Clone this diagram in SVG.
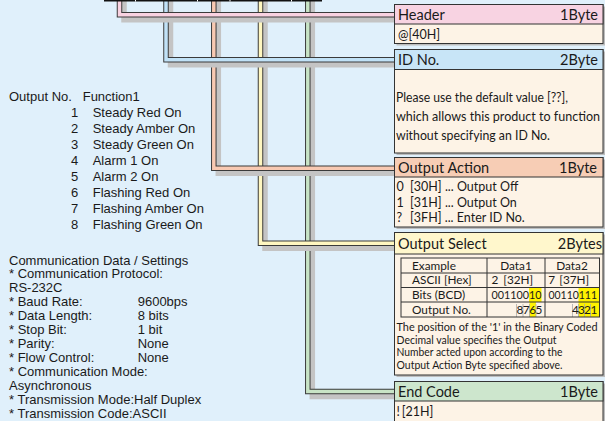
<svg xmlns="http://www.w3.org/2000/svg" width="605" height="421" viewBox="0 0 605 421">
<style>
.lt{font-family:"Liberation Sans",Arial,sans-serif;font-size:13px;fill:#1a1a1a}
.bt{font-family:Lato,"Open Sans",sans-serif;fill:#1a1a1a}
.ttl{font-size:14.5px}
.cnt{font-size:12.5px}
.tbl{font-size:11.8px}
.note{font-size:10.5px}
.sh{fill:none;stroke:#c4c4c4;stroke-width:5.5}
.out{fill:none;stroke:#3a3a3a;stroke-width:5.5}
.inn{fill:none;stroke-width:3.5}
.frame{stroke:#333;stroke-width:1}
.bshadow{fill:#bdbdbd}
.body{fill:#fdf3e6}
.tl{stroke:#333;stroke-width:1;fill:none}
.cell{stroke:#aaa;stroke-width:0.8}
.hl{fill:#fff200}
</style>
<rect width="605" height="421" fill="#e0f0fb"/>

<g id="connectors">
  <g id="c-end">
    <path class="sh" d="M307.8,-5 V391.5 H394" transform="translate(4.5,5)"/>
    <path class="out" d="M307.8,-5 V391.5 H394"/>
    <path class="inn" d="M307.8,-5 V391.5 H394" stroke="#c8e4c6"/>
  </g>
  <g id="c-select">
    <path class="sh" d="M260.5,-5 V243.2 H394" transform="translate(4.5,5)"/>
    <path class="out" d="M260.5,-5 V243.2 H394"/>
    <path class="inn" d="M260.5,-5 V243.2 H394" stroke="#fff7c0"/>
  </g>
  <g id="c-action">
    <path class="sh" d="M213.8,-5 V168.2 H394" transform="translate(4.5,5)"/>
    <path class="out" d="M213.8,-5 V168.2 H394"/>
    <path class="inn" d="M213.8,-5 V168.2 H394" stroke="#f8c9b2"/>
  </g>
  <g id="c-id">
    <path class="sh" d="M166,-5 V59.8 H394" transform="translate(4.5,5)"/>
    <path class="out" d="M166,-5 V59.8 H394"/>
    <path class="inn" d="M166,-5 V59.8 H394" stroke="#c1e2f7"/>
  </g>
  <g id="c-header">
    <path class="sh" d="M119.5,-5 V14.8 H394" transform="translate(4.5,5)"/>
    <path class="out" d="M119.5,-5 V14.8 H394"/>
    <path class="inn" d="M119.5,-5 V14.8 H394" stroke="#f9d2e1"/>
  </g>
  <g id="top-edge">
    <rect x="104" y="0" width="218" height="1.5" fill="#111"/>
    <rect x="135" y="0" width="1" height="1.5" fill="#fff"/>
    <rect x="197" y="0" width="1" height="1.5" fill="#fff"/>
    <rect x="229.5" y="0" width="1" height="1.5" fill="#fff"/>
    <rect x="291" y="0" width="1" height="1.5" fill="#fff"/>
  </g>
</g>

<g id="header">
  <rect class="bshadow" x="396.5" y="6.5" width="209" height="39"/>
  <rect class="body frame" x="394.5" y="4.5" width="208.5" height="39"/>
  <rect class="frame" x="394.5" y="4.5" width="208.5" height="19.5" fill="#f8d3e2"/>
  <text class="bt ttl" x="398" y="19.5">Header</text>
  <text class="bt ttl" x="598" y="19.5" text-anchor="end">1Byte</text>
  <text class="bt cnt" x="398" y="38.5" font-size="12">@[40H]</text>
</g>

<g id="id-no">
  <rect class="bshadow" x="396.5" y="51.5" width="209" height="103.5"/>
  <rect class="body frame" x="394.5" y="49.5" width="208.5" height="103.5"/>
  <rect class="frame" x="394.5" y="49.5" width="208.5" height="20" fill="#c8e5f7"/>
  <text class="bt ttl" x="398" y="64.5">ID No.</text>
  <text class="bt ttl" x="598" y="64.5" text-anchor="end">2Byte</text>
  <text class="bt cnt" x="396" y="101.5" textLength="172" lengthAdjust="spacingAndGlyphs">Please use the default value [??],</text>
  <text class="bt cnt" x="396" y="120.5" textLength="204" lengthAdjust="spacingAndGlyphs">which allows this product to function</text>
  <text class="bt cnt" x="396" y="139.5" textLength="154" lengthAdjust="spacingAndGlyphs">without specifying an ID No.</text>
</g>

<g id="output-action">
  <rect class="bshadow" x="396.5" y="159.5" width="209" height="69.5"/>
  <rect class="body frame" x="394.5" y="157.5" width="208.5" height="69.5"/>
  <rect class="frame" x="394.5" y="157.5" width="208.5" height="19.5" fill="#f7cdb5"/>
  <text class="bt ttl" x="398" y="172.5">Output Action</text>
  <text class="bt ttl" x="597" y="172.5" text-anchor="end">1Byte</text>
  <text class="bt cnt" y="191"><tspan x="396.5">0</tspan><tspan x="410">[30H] ... Output Off</tspan></text>
  <text class="bt cnt" y="206.5"><tspan x="396.5">1</tspan><tspan x="410">[31H] ... Output On</tspan></text>
  <text class="bt cnt" y="222"><tspan x="396.5">?</tspan><tspan x="410">[3FH] ... Enter ID No.</tspan></text>
</g>

<g id="output-select">
  <rect class="bshadow" x="396.5" y="234.5" width="209" height="142.5"/>
  <rect class="body frame" x="394.5" y="232.5" width="208.5" height="142.5"/>
  <rect class="frame" x="394.5" y="232.5" width="208.5" height="21.5" fill="#fff7cc"/>
  <text class="bt ttl" x="398" y="248.5">Output Select</text>
  <text class="bt ttl" x="602" y="248.5" text-anchor="end">2Bytes</text>
  <g id="table">
    <rect class="hl" x="529" y="287.5" width="12.5" height="14.5"/>
    <rect class="hl" x="578.5" y="287.5" width="21" height="14.5"/>
    <rect class="hl" x="529.5" y="302" width="6.5" height="15"/>
    <rect class="hl" x="578.5" y="302" width="21" height="15"/>
    <line class="cell" x1="516.5" y1="304" x2="516.5" y2="317"/>
    <line class="cell" x1="523" y1="304" x2="523" y2="317"/>
    <line class="cell" x1="529.5" y1="304" x2="529.5" y2="317"/>
    <line class="cell" x1="536" y1="304" x2="536" y2="317"/>
    <line class="cell" x1="572.5" y1="304" x2="572.5" y2="317"/>
    <line class="cell" x1="578.5" y1="304" x2="578.5" y2="317"/>
    <line class="cell" x1="584.5" y1="304" x2="584.5" y2="317"/>
    <line class="cell" x1="590.5" y1="304" x2="590.5" y2="317"/>
    <rect class="tl" x="401" y="258" width="198.5" height="59"/>
    <line class="tl" x1="401" y1="273" x2="599.5" y2="273"/>
    <line class="tl" x1="401" y1="287.5" x2="599.5" y2="287.5"/>
    <line class="tl" x1="401" y1="302" x2="599.5" y2="302"/>
    <line class="tl" x1="487" y1="258" x2="487" y2="317"/>
    <line class="tl" x1="545" y1="258" x2="545" y2="317"/>
    <text class="bt tbl" x="412" y="269.5">Example</text>
    <text class="bt tbl" x="412" y="284">ASCII [Hex]</text>
    <text class="bt tbl" x="412" y="298.5">Bits (BCD)</text>
    <text class="bt tbl" x="412" y="313.5">Output No.</text>
    <text class="bt tbl" x="516" y="269.5" text-anchor="middle">Data1</text>
    <text class="bt tbl" x="572" y="269.5" text-anchor="middle">Data2</text>
    <text class="bt tbl" y="284"><tspan x="491.5">2</tspan><tspan x="503.3">[32H]</tspan></text>
    <text class="bt tbl" y="284"><tspan x="548.3">7</tspan><tspan x="559.3">[37H]</tspan></text>
    <text class="bt tbl" x="491.5" y="298.5" textLength="50" lengthAdjust="spacingAndGlyphs">00110010</text>
    <text class="bt tbl" x="548.5" y="298.5" textLength="48.5" lengthAdjust="spacingAndGlyphs">00110111</text>
    <text class="bt tbl" y="313.5" text-anchor="middle"><tspan x="519.8">8</tspan><tspan x="526.2">7</tspan><tspan x="532.7">6</tspan><tspan x="539">5</tspan></text>
    <text class="bt tbl" y="313.5" text-anchor="middle"><tspan x="575.5">4</tspan><tspan x="581.5">3</tspan><tspan x="587.5">2</tspan><tspan x="593.8">1</tspan></text>
  </g>
  <text class="bt note" x="396.5" y="331" textLength="201" lengthAdjust="spacingAndGlyphs">The position of the  '1' in the Binary Coded</text>
  <text class="bt note" x="396.5" y="343.6" textLength="160" lengthAdjust="spacingAndGlyphs">Decimal value specifies the Output</text>
  <text class="bt note" x="396.5" y="356.2" textLength="166" lengthAdjust="spacingAndGlyphs">Number acted upon according to the</text>
  <text class="bt note" x="396.5" y="368.8" textLength="166" lengthAdjust="spacingAndGlyphs">Output Action Byte specified above.</text>
</g>

<g id="end-code">
  <rect class="bshadow" x="396.5" y="383.5" width="209" height="45"/>
  <rect class="body frame" x="394.5" y="381.5" width="208.5" height="45"/>
  <rect class="frame" x="394.5" y="381.5" width="208.5" height="19.5" fill="#cde6cd"/>
  <text class="bt ttl" x="398" y="396.5">End Code</text>
  <text class="bt ttl" x="598" y="396.5" text-anchor="end">1Byte</text>
  <text class="bt cnt" y="416" font-size="12"><tspan x="396.5">!</tspan><tspan x="401.7">[21H]</tspan></text>
</g>

<g id="function-list">
  <text class="lt" y="101"><tspan x="9">Output No.</tspan><tspan x="82.7">Function1</tspan></text>
  <text class="lt" y="117"><tspan x="71">1</tspan><tspan x="92.7">Steady Red On</tspan></text>
  <text class="lt" y="133"><tspan x="71">2</tspan><tspan x="92.7">Steady Amber On</tspan></text>
  <text class="lt" y="149"><tspan x="71">3</tspan><tspan x="92.7">Steady Green On</tspan></text>
  <text class="lt" y="165"><tspan x="71">4</tspan><tspan x="92.7">Alarm 1 On</tspan></text>
  <text class="lt" y="181"><tspan x="71">5</tspan><tspan x="92.7">Alarm 2 On</tspan></text>
  <text class="lt" y="197"><tspan x="71">6</tspan><tspan x="92.7">Flashing Red On</tspan></text>
  <text class="lt" y="213"><tspan x="71">7</tspan><tspan x="92.7">Flashing Amber On</tspan></text>
  <text class="lt" y="229"><tspan x="71">8</tspan><tspan x="92.7">Flashing Green On</tspan></text>
</g>

<g id="settings">
  <text class="lt" x="9" y="264.5" font-size="16">Communication Data / Settings</text>
  <text class="lt" x="9" y="278" font-size="13.3">* Communication Protocol:</text>
  <text class="lt" x="9" y="292" font-size="13.3">RS-232C</text>
  <text class="lt" y="306" font-size="13.3"><tspan x="9">* Baud Rate:</tspan><tspan x="137.7">9600bps</tspan></text>
  <text class="lt" y="320" font-size="13.3"><tspan x="9">* Data Length:</tspan><tspan x="137.7">8 bits</tspan></text>
  <text class="lt" y="334" font-size="13.3"><tspan x="9">* Stop Bit:</tspan><tspan x="137.7">1 bit</tspan></text>
  <text class="lt" y="348" font-size="13.3"><tspan x="9">* Parity:</tspan><tspan x="137.7">None</tspan></text>
  <text class="lt" y="362" font-size="13.3"><tspan x="9">* Flow Control:</tspan><tspan x="137.7">None</tspan></text>
  <text class="lt" x="9" y="376" font-size="13.3">* Communication Mode:</text>
  <text class="lt" x="9" y="390" font-size="13.3">Asynchronous</text>
  <text class="lt" x="9" y="404" font-size="13.3">* Transmission Mode:Half Duplex</text>
  <text class="lt" x="9" y="418" font-size="13.3">* Transmission Code:ASCII</text>
</g>
</svg>
